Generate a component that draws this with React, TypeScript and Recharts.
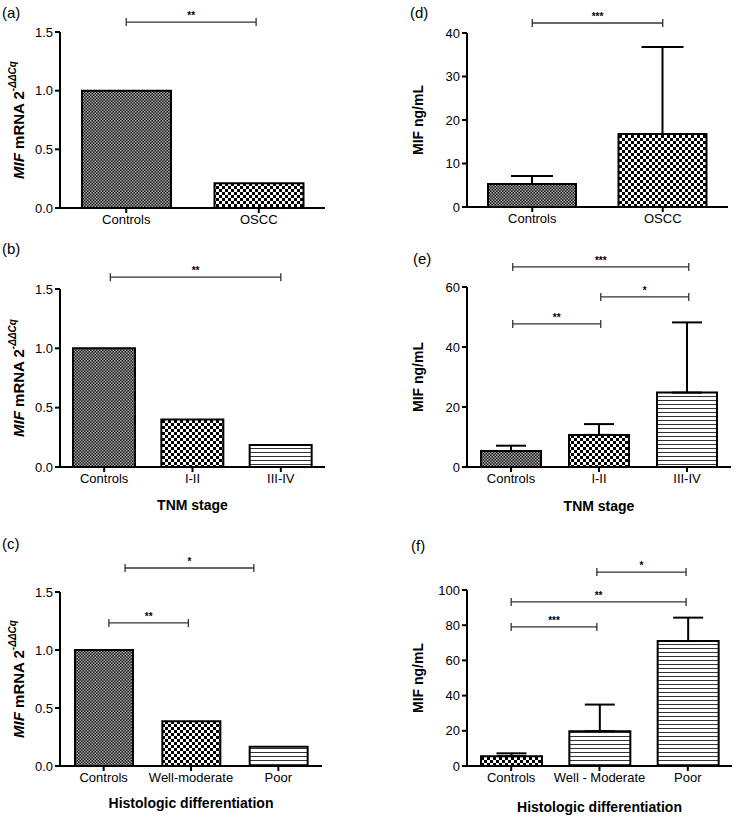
import React from "react";
import { BarChart, Bar, XAxis, YAxis, Cell, ErrorBar, ReferenceLine } from "recharts";

const FONT = '"Liberation Sans", Arial, Helvetica, sans-serif';

// (a) MIF mRNA, controls vs OSCC
const A_CATS = ["Controls", "OSCC"];
const A_VALS = [1.0, 0.21];
// (b) MIF mRNA by TNM stage
const B_CATS = ["Controls", "I-II", "III-IV"];
const B_VALS = [1.0, 0.4, 0.185];
// (c) MIF mRNA by histologic differentiation
const C_CATS = ["Controls", "Well-moderate", "Poor"];
const C_VALS = [1.0, 0.385, 0.165];
// (d) serum MIF, controls vs OSCC (mean + SD)
const D_CATS = ["Controls", "OSCC"];
const D_VALS = [5.3, 16.8];
const D_SD = [1.8, 20.0];
// (e) serum MIF by TNM stage
const E_CATS = ["Controls", "I-II", "III-IV"];
const E_VALS = [5.3, 10.7, 24.8];
const E_SD = [1.8, 3.6, 23.4];
// (f) serum MIF by histologic differentiation
const F_CATS = ["Controls", "Well - Moderate", "Poor"];
const F_VALS = [5.6, 19.8, 71.0];
const F_SD = [1.6, 15.1, 13.3];

const MRNA_TICKS = [0, 0.5, 1.0, 1.5];
const D_TICKS = [0, 10, 20, 30, 40];
const E_TICKS = [0, 20, 40, 60];
const F_TICKS = [0, 20, 40, 60, 80, 100];

// significance brackets: from/to in category index units, y in data units
const A_SIG = [{ from: 0, to: 0.98, y: 1.585, label: "**" }];
const B_SIG = [{ from: 0.07, to: 2.0, y: 1.6, label: "**" }];
const C_SIG = [
  { from: 0.245, to: 1.72, y: 1.707, label: "*" },
  { from: 0.06, to: 0.97, y: 1.233, label: "**" },
];
const D_SIG = [{ from: 0, to: 1, y: 42.3, label: "***" }];
const E_SIG = [
  { from: 0.02, to: 2.02, y: 66.7, label: "***" },
  { from: 1.02, to: 2.02, y: 56.7, label: "*" },
  { from: 0.02, to: 1.02, y: 47.7, label: "**" },
];
const F_SIG = [
  { from: 0.97, to: 1.98, y: 110.2, label: "*" },
  { from: 0, to: 1.98, y: 93.2, label: "**" },
  { from: 0, to: 0.97, y: 79.0, label: "***" },
];

const FINE = "url(#fine)";
const CHECK = "url(#check)";
const LINES = "url(#hlines)";

const axisStroke = { stroke: "#000", strokeWidth: 2 };
const tickStyle = { fill: "#000", fontSize: 13, fontFamily: FONT };

type Sig = { from: number; to: number; y: number; label: string };

// bracket drawn between two category centres, nudged by a fraction of the band
function bracketShape(s: Sig) {
  const i0 = Math.round(s.from);
  const i1 = Math.round(s.to);
  // eslint-disable-next-line @typescript-eslint/no-explicit-any
  return (p: any) => {
    const band = (p.x2 - p.x1) / (i1 - i0);
    const x1 = p.x1 + (s.from - i0) * band;
    const x2 = p.x2 + (s.to - i1) * band;
    const y = p.y1;
    return (
      <g>
        <line x1={x1} y1={y} x2={x2} y2={y} stroke="#333" strokeWidth={1.3} />
        <line x1={x1} y1={y - 4} x2={x1} y2={y + 4} stroke="#333" strokeWidth={1.3} />
        <line x1={x2} y1={y - 4} x2={x2} y2={y + 4} stroke="#333" strokeWidth={1.3} />
        <text x={(x1 + x2) / 2} y={y - 3} textAnchor="middle" fontSize={10} fontWeight="bold" fontFamily={FONT} fill="#000">
          {s.label}
        </text>
      </g>
    );
  };
}

// eslint-disable-next-line @typescript-eslint/no-explicit-any
function YTitle({ viewBox, dx, mrna }: any) {
  const cx = viewBox.x + dx;
  const cy = viewBox.y + viewBox.height / 2;
  return (
    <text
      x={cx} y={cy} transform={`rotate(-90, ${cx}, ${cy})`}
      textAnchor="middle" dominantBaseline="central"
      fontFamily={FONT} fontWeight="bold" fontSize={mrna ? 15 : 14} fill="#000"
    >
      {mrna ? (
        <>
          <tspan fontStyle="italic">MIF</tspan>
          <tspan> mRNA 2</tspan>
          <tspan fontSize={10} dy={-6} fontStyle="italic">-ΔΔCq</tspan>
        </>
      ) : "MIF ng/mL"}
    </text>
  );
}

interface PanelProps {
  left: number; top: number; width: number; height: number;
  margin: { top: number; right: number };
  yWidth: number; xHeight: number; titleDx: number;
  cats: string[]; vals: number[]; sd?: number[]; fills: string[];
  ticks: number[]; mrna: boolean; xTitle?: string; xTitleOffset?: number;
  sig: Sig[]; barSize: number; cap?: number;
}

function Panel(props: PanelProps) {
  const { cats, vals, sd, fills, ticks, mrna } = props;
  const data = cats.map((c, i) => ({ name: c, value: vals[i], err: sd ? [0, sd[i]] : undefined }));
  const max = ticks[ticks.length - 1];
  return (
    <div style={{ position: "absolute", left: props.left, top: props.top }}>
      <BarChart
        width={props.width} height={props.height} data={data}
        margin={{ top: props.margin.top, right: props.margin.right, left: 0, bottom: 0 }}
        barSize={props.barSize}
      >
        <XAxis
          dataKey="name" interval={0} height={props.xHeight}
          axisLine={axisStroke} tickLine={axisStroke} tickSize={5} tickMargin={2} tick={tickStyle}
          label={props.xTitle ? {
            value: props.xTitle, position: "insideBottom", offset: props.xTitleOffset,
            fill: "#000", fontSize: 14, fontWeight: "bold", fontFamily: FONT,
          } : undefined}
        />
        <YAxis
          width={props.yWidth} domain={[0, max]} ticks={ticks} allowDataOverflow
          tickFormatter={(v: number) => (mrna ? v.toFixed(1) : String(v))}
          axisLine={axisStroke} tickLine={axisStroke} tickSize={5} tickMargin={2} tick={tickStyle}
          // eslint-disable-next-line @typescript-eslint/no-explicit-any
          label={{ content: (p: any) => <YTitle viewBox={p.viewBox} dx={props.titleDx} mrna={mrna} /> }}
        />
        <Bar dataKey="value" stroke="#000" strokeWidth={2} isAnimationActive={false}>
          {data.map((d, i) => <Cell key={d.name} fill={fills[i]} />)}
          {sd && (
            <ErrorBar dataKey="err" direction="y" width={props.cap} stroke="#000" strokeWidth={2} isAnimationActive={false} />
          )}
        </Bar>
        {props.sig.map((s, i) => (
          <ReferenceLine
            key={i} ifOverflow="visible"
            segment={[{ x: cats[Math.round(s.from)], y: s.y }, { x: cats[Math.round(s.to)], y: s.y }]}
            shape={bracketShape(s)}
          />
        ))}
      </BarChart>
    </div>
  );
}

const titleStyle = (left: number, top: number): React.CSSProperties => ({
  position: "absolute", left, top, fontFamily: FONT, fontSize: 15, lineHeight: "15px", color: "#000",
});

export default function App() {
  return (
    <div style={{ position: "absolute", left: 0, top: 0, width: 737, height: 818, background: "#fff", overflow: "hidden" }}>
      <svg width={0} height={0} style={{ position: "absolute" }}>
        <defs>
          <pattern id="fine" width={3} height={3} patternUnits="userSpaceOnUse">
            <rect width={3} height={3} fill="#1a1a1a" />
            <rect width={1.5} height={1.5} fill="#a8a8a8" />
            <rect x={1.5} y={1.5} width={1.5} height={1.5} fill="#a8a8a8" />
          </pattern>
          <pattern id="check" width={6} height={6} patternUnits="userSpaceOnUse">
            <rect width={6} height={6} fill="#fff" />
            <rect width={3} height={3} fill="#000" />
            <rect x={3} y={3} width={3} height={3} fill="#000" />
          </pattern>
          <pattern id="hlines" width={4} height={4} patternUnits="userSpaceOnUse">
            <rect width={4} height={4} fill="#fff" />
            <rect width={4} height={1} fill="#333" />
          </pattern>
        </defs>
      </svg>

      <Panel left={0} top={0} width={335} height={235} margin={{ top: 32, right: 10 }}
        yWidth={60} xHeight={27} titleDx={18} cats={A_CATS} vals={A_VALS} fills={[FINE, CHECK]}
        ticks={MRNA_TICKS} mrna sig={A_SIG} barSize={89} />
      <Panel left={0} top={240} width={335} height={275} margin={{ top: 49, right: 10 }}
        yWidth={60} xHeight={48} titleDx={18} cats={B_CATS} vals={B_VALS} fills={[FINE, CHECK, LINES]}
        ticks={MRNA_TICKS} mrna xTitle="TNM stage" xTitleOffset={5} sig={B_SIG} barSize={62} />
      <Panel left={0} top={520} width={335} height={296} margin={{ top: 72, right: 13 }}
        yWidth={60} xHeight={50} titleDx={18} cats={C_CATS} vals={C_VALS} fills={[FINE, CHECK, LINES]}
        ticks={MRNA_TICKS} mrna xTitle="Histologic differentiation" xTitleOffset={8} sig={C_SIG} barSize={58} />

      <Panel left={370} top={0} width={367} height={234} margin={{ top: 33, right: 9 }}
        yWidth={97} xHeight={27} titleDx={48} cats={D_CATS} vals={D_VALS} sd={D_SD} fills={[FINE, CHECK]}
        ticks={D_TICKS} mrna={false} sig={D_SIG} barSize={88} cap={21} />
      <Panel left={370} top={240} width={367} height={275} margin={{ top: 47, right: 6 }}
        yWidth={97} xHeight={48} titleDx={48} cats={E_CATS} vals={E_VALS} sd={E_SD} fills={[FINE, CHECK, LINES]}
        ticks={E_TICKS} mrna={false} xTitle="TNM stage" xTitleOffset={4} sig={E_SIG} barSize={60} cap={15} />
      <Panel left={370} top={520} width={367} height={296} margin={{ top: 70, right: 5 }}
        yWidth={97} xHeight={50} titleDx={48} cats={F_CATS} vals={F_VALS} sd={F_SD} fills={[CHECK, LINES, LINES]}
        ticks={F_TICKS} mrna={false} xTitle="Histologic differentiation" xTitleOffset={4} sig={F_SIG} barSize={61} cap={15} />

      <div style={titleStyle(2, 5)}>(a)</div>
      <div style={titleStyle(2, 241)}>(b)</div>
      <div style={titleStyle(2, 536)}>(c)</div>
      <div style={titleStyle(410, 5)}>(d)</div>
      <div style={titleStyle(413, 251)}>(e)</div>
      <div style={titleStyle(411, 538)}>(f)</div>
    </div>
  );
}
